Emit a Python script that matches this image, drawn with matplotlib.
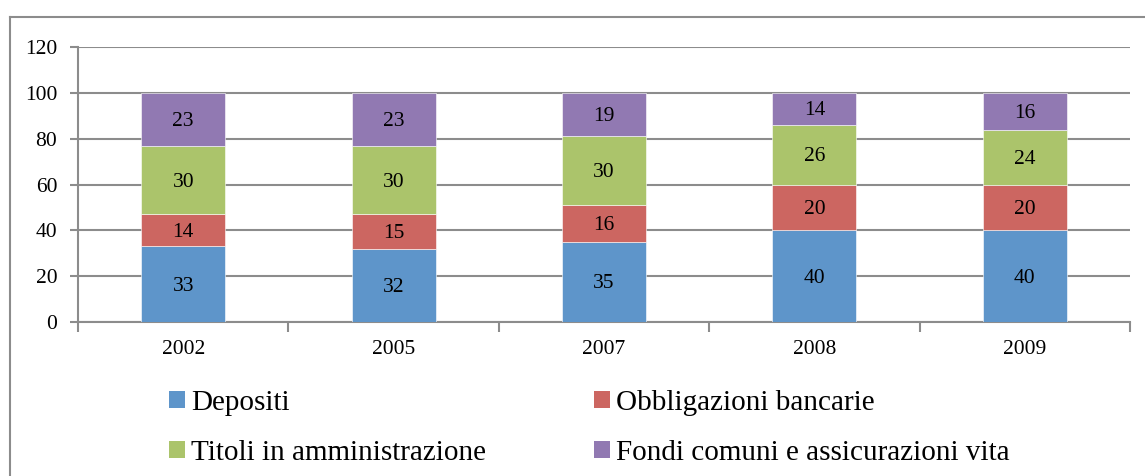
import matplotlib
matplotlib.use("Agg")
import matplotlib.pyplot as plt
from matplotlib.lines import Line2D
from matplotlib.patches import Patch
import numpy as np

plt.rcParams['font.family'] = ['Liberation Serif', 'DejaVu Serif']

# --- data ---
years = ["2002", "2005", "2007", "2008", "2009"]
depositi = [33, 32, 35, 40, 40]
obbligazioni = [14, 15, 16, 20, 20]
titoli = [30, 30, 30, 26, 24]
fondi = [23, 23, 19, 14, 16]

series_names = ["Depositi", "Obbligazioni bancarie",
                "Titoli in amministrazione", "Fondi comuni e assicurazioni vita"]
colors = ["#5E95CA", "#CC6661", "#ABC46B", "#9179B2"]

fig = plt.figure(figsize=(11.45, 4.76), dpi=100)
ax = fig.add_axes([78/1145, 1 - 322/476, (1130 - 78)/1145, (322 - 47)/476])

# outer chart border (only top and left visible in the crop)
grey = "#8C8C8C"
fig.add_artist(Line2D([10/1145, 1.0], [1 - 17/476, 1 - 17/476], color=grey, lw=1.5,
                      transform=fig.transFigure))
fig.add_artist(Line2D([10/1145, 10/1145], [1 - 17/476, 0.0], color=grey, lw=1.5,
                      transform=fig.transFigure))

x = np.arange(len(years))
bottom = np.zeros(len(years))
for vals, col in zip([depositi, obbligazioni, titoli, fondi], colors):
    ax.bar(x, vals, width=0.4, bottom=bottom, color=col,
           edgecolor="white", linewidth=0.4, zorder=3)
    for xi, b, v in zip(x, bottom, vals):
        ax.annotate(str(v), (xi, b + v / 2), xytext=(0, -1.5),
                    textcoords="offset points", ha="center", va="center",
                    fontsize=15.5, zorder=4)
    bottom += np.array(vals)

ax.set_xlim(-0.5, len(years) - 0.5)
ax.set_ylim(0, 120)
ax.set_yticks(range(0, 121, 20))
ax.yaxis.grid(True, color=grey, lw=1.5, zorder=0)
ax.set_axisbelow(True)

# category tick marks at boundaries, labels at centres
ax.set_xticks(np.arange(-0.5, len(years)), minor=False)
ax.set_xticklabels([])
ax.set_xticks(x, minor=True)
ax.set_xticklabels(years, minor=True)
ax.tick_params(axis="x", which="major", length=7, width=1.5, color=grey)
ax.tick_params(axis="x", which="minor", length=0, pad=13, labelsize=15.5)
ax.tick_params(axis="y", length=6, width=1.5, color=grey, pad=9, labelsize=15.5)

for s in ["top", "right"]:
    ax.spines[s].set_visible(False)
for s in ["left", "bottom"]:
    ax.spines[s].set_color(grey)
    ax.spines[s].set_linewidth(1.5)

handles = [Patch(facecolor=c) for c in colors]
leg_kw = dict(loc="upper left", frameon=False, fontsize=21, borderpad=0,
              borderaxespad=0, handlelength=0.55, handleheight=0.55,
              handletextpad=0.2, labelspacing=0.82)
fig.legend([handles[0], handles[2]], [series_names[0], series_names[2]],
           bbox_to_anchor=(169/1145, 1 - 390/476), **leg_kw)
fig.legend([handles[1], handles[3]], [series_names[1], series_names[3]],
           bbox_to_anchor=(594/1145, 1 - 390/476), **leg_kw)

fig.savefig("out.png", dpi=100)
